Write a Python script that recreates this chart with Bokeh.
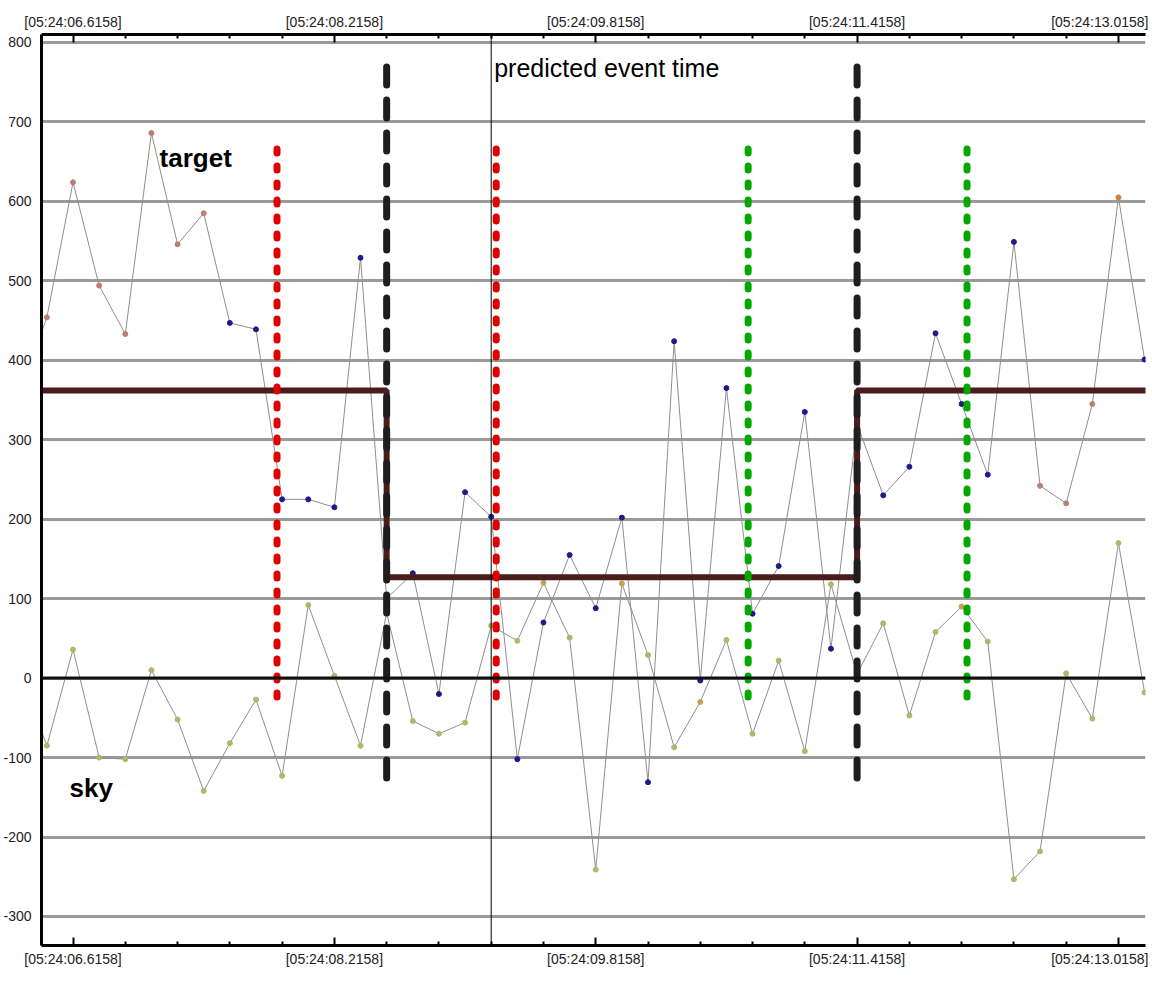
from bokeh.plotting import figure
from bokeh.models import (Range1d, FixedTicker, LinearAxis, CustomJSTickFormatter,
                          Span, Label, ColumnDataSource)
from bokeh.embed import file_html
from bokeh.resources import INLINE

# ---------------- data ----------------
# sample times (seconds after 05:24:00)
time = [6.2958, 6.4558, 6.6158, 6.7758, 6.9358, 7.0958, 7.2558, 7.4158, 7.5758, 7.7358,
        7.8958, 8.0558, 8.2158, 8.3758, 8.5358, 8.6958, 8.8558, 9.0158, 9.1758, 9.3358,
        9.4958, 9.6558, 9.8158, 9.9758, 10.1358, 10.2958, 10.4558, 10.6158, 10.7758, 10.9358,
        11.0958, 11.2558, 11.4158, 11.5758, 11.7358, 11.8958, 12.0558, 12.2158, 12.3758, 12.5358,
        12.6958, 12.8558, 13.0158, 13.1758]

target = [363, 454, 624, 494, 433, 686, 546, 585, 447, 439,
          225, 225, 215, 529, 100, 132, -20, 234, 203, -102,
          70, 155, 88, 202, -131, 424, -3, 365, 81, 141,
          335, 37, 320, 230, 266, 434, 345, 256, 549, 242,
          220, 345, 605, 401]

sky = [4, -85, 36, -100, -102, 10, -52, -142, -82, -27,
       -123, 92, 3, -85, 82, -54, -70, -56, 66, 47,
       120, 51, -241, 119, 29, -87, -30, 48, -70, 22,
       -92, 118, 5, 69, -47, 58, 90, 46, -253, -218,
       6, -51, 170, -18]

# point quality flags (0 = first kind, 1 = second kind, 2 = third kind)
target_flag = [0, 0, 0, 0, 0, 0, 0, 0, 1, 1,
               1, 1, 1, 1, 1, 1, 1, 1, 1, 1,
               1, 1, 1, 1, 1, 1, 1, 1, 1, 1,
               1, 1, 1, 1, 1, 1, 1, 1, 1, 0,
               0, 0, 2, 1]
sky_flag = [0, 0, 0, 0, 0, 0, 0, 0, 0, 0,
            0, 0, 0, 0, 0, 0, 0, 0, 1, 0,
            1, 0, 0, 1, 0, 0, 1, 0, 0, 0,
            0, 0, 0, 0, 0, 0, 1, 0, 0, 0,
            0, 0, 0, 0]

# level (step) line: level holds from each change time on
step_times = [6.2958, 8.5358, 11.4158, 13.5]
step_levels = [362, 127, 362, 362]

red_times = [7.8646, 9.2065]
green_times = [10.7488, 12.0888]
black_times = [8.5358, 11.4158]
event_time = 9.1758

tick_times = [6.6158, 8.2158, 9.8158, 11.4158, 13.0158]
tick_labels = ["[05:24:06.6158]", "[05:24:08.2158]", "[05:24:09.8158]",
               "[05:24:11.4158]", "[05:24:13.0158]"]
minor_times = [6.9358, 7.2558, 7.5758, 7.8958, 8.5358, 8.8558, 9.1758, 9.4958,
               10.1358, 10.4558, 10.7758, 11.0958, 11.7358, 12.0558, 12.3758, 12.6958]
y_ticks = [-300, -200, -100, 0, 100, 200, 300, 400, 500, 600, 700, 800]

# ---------------- figure ----------------
FONT = "Liberation Sans"
p = figure(width=1148, height=972, output_backend="svg", toolbar_location=None,
           x_range=Range1d(6.4228, 13.1814), y_range=Range1d(-336.5, 810),
           min_border_left=40, min_border_right=3, min_border_top=34, min_border_bottom=27,
           background_fill_color="white", border_fill_color="white")
p.outline_line_color = None
p.xgrid.visible = False

formatter = CustomJSTickFormatter(args=dict(vals=tick_times, labs=tick_labels), code="""
let best = 0;
for (let i = 0; i < vals.length; i++) {
  if (Math.abs(vals[i] - tick) < Math.abs(vals[best] - tick)) best = i;
}
return labs[best];
""")

bottom_axis = p.below[0]
top_axis = LinearAxis()
p.add_layout(top_axis, "above")
for ax in [bottom_axis, top_axis]:
    ax.ticker = FixedTicker(ticks=tick_times, minor_ticks=minor_times)
    ax.formatter = formatter
    ax.axis_line_color = "black"
    ax.axis_line_width = 3
    ax.major_tick_in = 8
    ax.major_tick_out = 0
    ax.minor_tick_in = 4
    ax.minor_tick_out = 0
    ax.major_tick_line_width = 2
    ax.minor_tick_line_width = 2
    ax.major_tick_line_color = "black"
    ax.minor_tick_line_color = "black"
    ax.major_label_text_font = FONT
    ax.major_label_text_font_size = "14px"
    ax.major_label_text_color = "#222222"
    ax.major_label_standoff = 5

ya = p.left[0]
ya.ticker = FixedTicker(ticks=y_ticks)
ya.formatter = CustomJSTickFormatter(code="return String(Math.round(tick));")
ya.axis_line_color = "black"
ya.axis_line_width = 3
ya.major_tick_line_color = None
ya.minor_tick_line_color = None
ya.major_label_text_font = FONT
ya.major_label_text_font_size = "14px"
ya.major_label_text_color = "#222222"
ya.major_label_standoff = 4

p.ygrid.ticker = FixedTicker(ticks=y_ticks)
p.ygrid.grid_line_color = "#9a9a9a"
p.ygrid.grid_line_width = 3

p.add_layout(Span(location=0, dimension="width", line_color="#111111", line_width=3))

# data lines and markers
tpal = ["#b88070", "#1c1c88", "#d0803c"]
spal = ["#b4b46c", "#c8a050"]
src_t = ColumnDataSource(dict(x=time, y=target,
                              c=[tpal[f] for f in target_flag]))
src_s = ColumnDataSource(dict(x=time, y=sky,
                              c=[spal[f] for f in sky_flag]))
p.line("x", "y", source=src_t, line_color="#8f8f8f", line_width=1)
p.line("x", "y", source=src_s, line_color="#8f8f8f", line_width=1)
p.scatter("x", "y", source=src_t, marker="circle", size=5, fill_color="c", line_color="c")
p.scatter("x", "y", source=src_s, marker="circle", size=5, fill_color="c", line_color="c")

# level step
p.step(step_times, step_levels, mode="after", line_color="#4a1c1c", line_width=6)

# dotted markers
p.segment(x0=red_times, x1=red_times, y0=[666] * 2, y1=[-39] * 2,
          line_color="#e00000", line_width=7, line_dash="4 13", line_cap="round")
p.segment(x0=green_times, x1=green_times, y0=[666] * 2, y1=[-40] * 2,
          line_color="#00a800", line_width=7, line_dash="4 13", line_cap="round")
p.segment(x0=black_times, x1=black_times, y0=[769] * 2, y1=[-131] * 2,
          line_color="#1e1e1e", line_width=7, line_dash="18 15", line_cap="round")

# predicted event time
p.add_layout(Span(location=event_time, dimension="height", line_color="black", line_width=1))
p.add_layout(Label(x=event_time, y=768, x_offset=3, text="predicted event time",
                   text_font=FONT, text_font_size="25px", text_baseline="middle",
                   text_color="black"))
p.add_layout(Label(x=7.1458, y=654, text="target", text_font=FONT, text_font_style="bold",
                   text_font_size="26px", text_baseline="middle", text_color="black"))
p.add_layout(Label(x=6.5944, y=-138, text="sky", text_font=FONT, text_font_style="bold",
                   text_font_size="26px", text_baseline="middle", text_color="black"))

open("out.html", "w").write(file_html(p, INLINE))
